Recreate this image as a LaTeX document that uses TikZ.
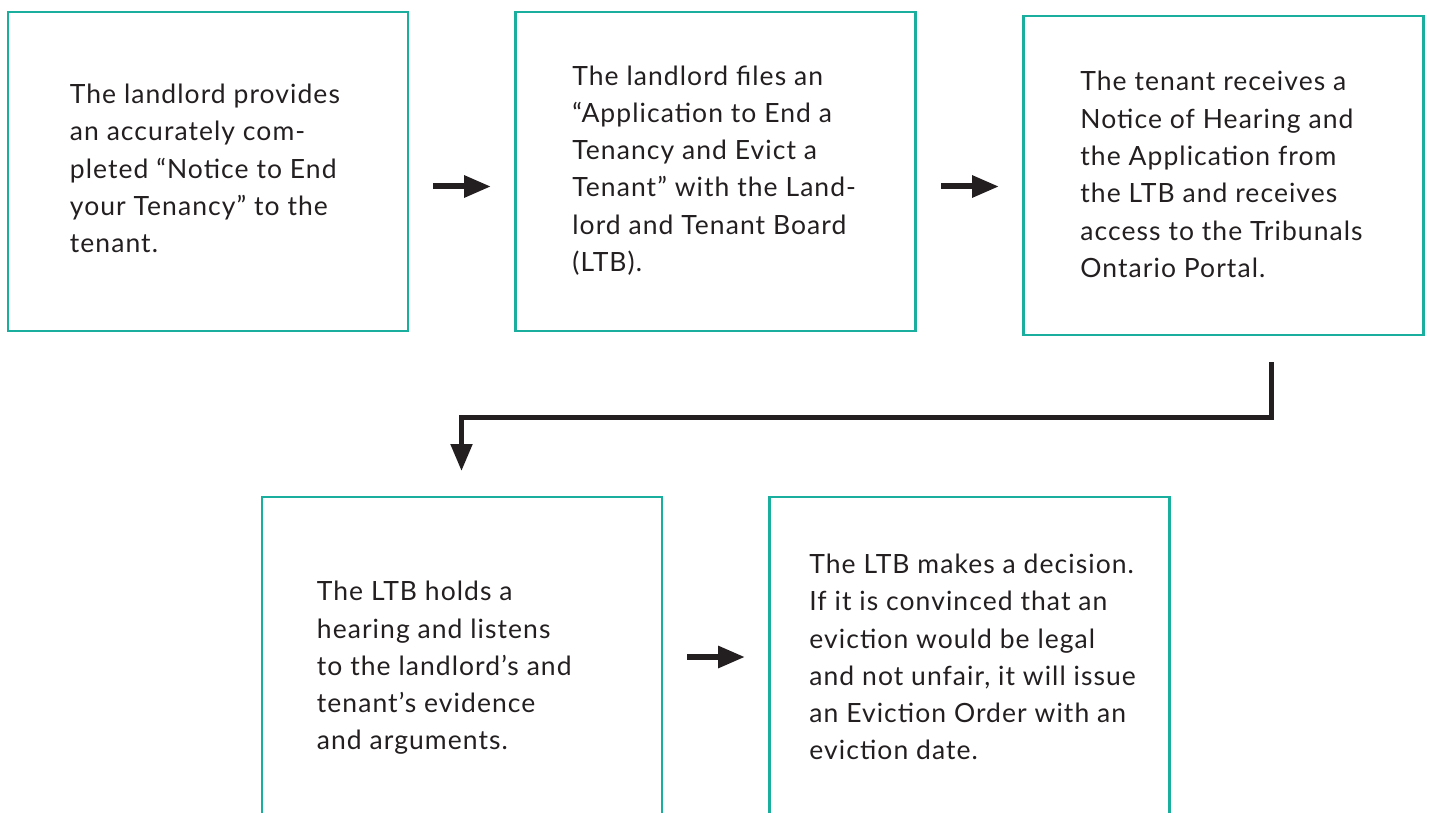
\documentclass[tikz,border=0pt]{standalone}
\usepackage{fontspec}
\setmainfont[LetterSpace=4]{Lato}
\usetikzlibrary{arrows.meta}
\definecolor{teal}{HTML}{1AAE9F}
\definecolor{ink}{HTML}{231F20}
\begin{document}
\begin{tikzpicture}[x=1pt,y=-1pt,
  stepbox/.style={draw=teal, line width=2.6pt, minimum width=400pt, minimum height=319pt, inner sep=0pt},
  steptext/.style={anchor=west, align=left, inner sep=0pt, text=ink, font=\fontsize{26.5}{37.3}\selectfont},
  flow/.style={draw=ink, line width=6pt, -{Triangle[length=27pt,width=21pt]}},
  elbow/.style={draw=ink, line width=5pt, -{Triangle[length=27pt,width=21pt]}}]
\useasboundingbox (0,0) rectangle (1429,813);
\node[stepbox] (b1) at (208,171.5) {};
\node[stepbox] (b2) at (715.5,171.5) {};
\node[stepbox] (b3) at (1223.5,175.5) {};
\node[stepbox, minimum height=320pt] (b4) at (462,657) {};
\node[stepbox, minimum height=320pt] (b5) at (969.5,657) {};
\node[steptext] (t1) at ([xshift=63pt,yshift=3pt]b1.west) {The landlord provides\\an accurately com-\\pleted “Notice to End\\your Tenancy” to the\\tenant.};
\node[steptext] (t2) at ([xshift=58pt,yshift=1pt]b2.west) {The landlord files an\\“Application to End a\\Tenancy and Evict a\\Tenant” with the Land-\\lord and Tenant Board\\(LTB).};
\node[steptext] (t3) at ([xshift=58pt,yshift=1pt]b3.west) {The tenant receives a\\Notice of Hearing and\\the Application from\\the LTB and receives\\access to the Tribunals\\Ontario Portal.};
\node[steptext] (t4) at ([xshift=56pt,yshift=-11pt]b4.west) {The LTB holds a\\hearing and listens\\to the landlord’s and\\tenant’s evidence\\and arguments.};
\node[steptext] (t5) at ([xshift=41pt]b5.west) {The LTB makes a decision.\\If it is convinced that an\\eviction would be legal\\and not unfair, it will issue\\an Eviction Order with an\\eviction date.};
\coordinate (a1s) at (433,186.5);
\coordinate (a1e) at (491,186.5);
\coordinate (a2s) at (941,186.5);
\coordinate (a2e) at (999,186.5);
\coordinate (a3s) at (687,657);
\coordinate (a3e) at (745,657);
\coordinate (e0) at (1271.5,362);
\coordinate (e1) at (1271.5,417);
\coordinate (e2) at (461.5,417);
\coordinate (e3) at (461.5,471);
\draw[flow] (a1s) -- (a1e);
\draw[flow] (a2s) -- (a2e);
\draw[flow] (a3s) -- (a3e);
\draw[elbow] (e0) -- (e1) -- (e2) -- (e3);
\end{tikzpicture}
\end{document}
